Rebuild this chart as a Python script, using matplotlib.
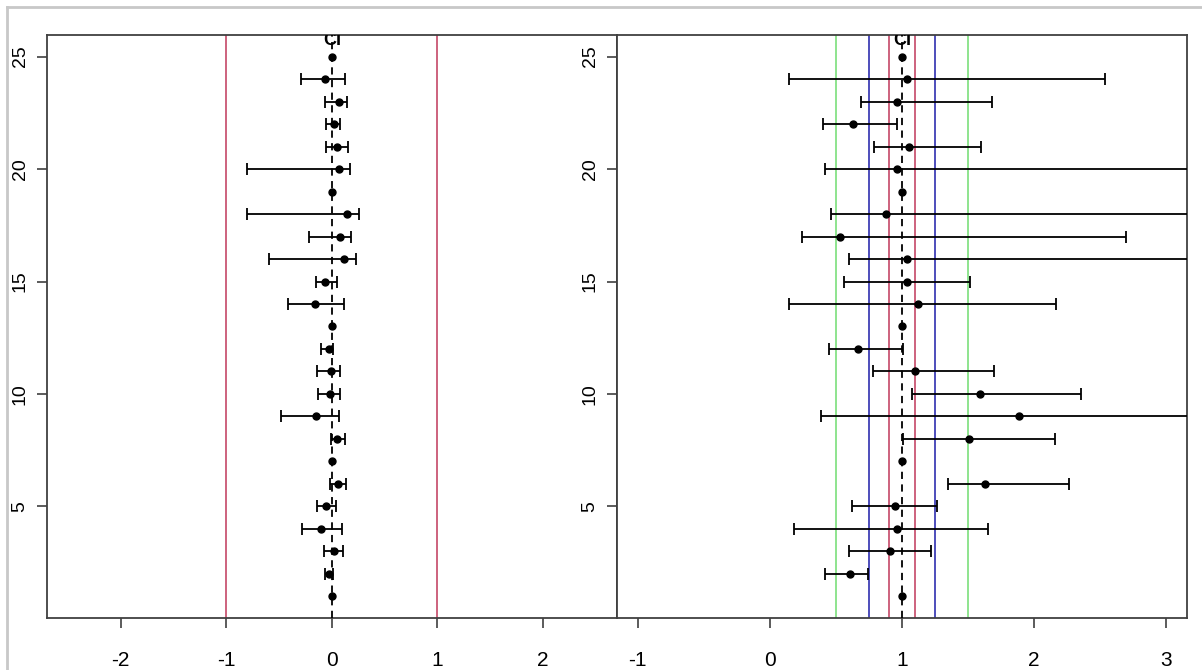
import matplotlib
matplotlib.use('Agg')
import matplotlib.pyplot as plt
import numpy as np
from matplotlib.lines import Line2D

plt.rcParams['font.family'] = ['Liberation Sans', 'DejaVu Sans']

rows = list(range(1, 26))

# left panel: estimate, lower and upper limits (bottom row first); None = no interval
left_est = [0.0, -0.03, 0.02, -0.105, -0.05, 0.056, 0.0, 0.045, -0.15, -0.02, -0.01, -0.03,
            0.0, -0.16, -0.06, 0.12, 0.08, 0.14, 0.0, 0.064, 0.05, 0.02, 0.064, -0.06, 0.0]
left_lo = [None, -0.06, -0.075, -0.28, -0.14, -0.02, None, -0.01, -0.48, -0.13, -0.14, -0.105,
           None, -0.41, -0.15, -0.59, -0.22, -0.80, None, -0.80, -0.05, -0.05, -0.06, -0.29, None]
left_hi = [None, 0.015, 0.11, 0.094, 0.04, 0.135, None, 0.13, 0.07, 0.075, 0.08, 0.015,
           None, 0.12, 0.045, 0.23, 0.18, 0.26, None, 0.17, 0.15, 0.08, 0.14, 0.13, None]

# right panel (ratio scale)
right_est = [1.0, 0.61, 0.91, 0.96, 0.95, 1.63, 1.0, 1.51, 1.89, 1.59, 1.10, 0.665,
             1.0, 1.12, 1.04, 1.04, 0.53, 0.88, 1.0, 0.96, 1.055, 0.63, 0.96, 1.04, 1.0]
right_lo = [None, 0.42, 0.60, 0.18, 0.62, 1.35, None, 1.01, 0.39, 1.08, 0.78, 0.45,
            None, 0.145, 0.56, 0.60, 0.245, 0.46, None, 0.42, 0.79, 0.40, 0.69, 0.145, None]
right_hi = [None, 0.74, 1.22, 1.65, 1.27, 2.27, None, 2.16, 3.6, 2.36, 1.70, 1.01,
            None, 2.17, 1.52, 3.5, 2.70, 3.7, None, 3.8, 1.60, 0.96, 1.68, 2.54, None]

left_ref = 0
left_bounds = [-1, 1]
right_ref = 1
right_bounds = [(0.9, 1.1, '#c0385a'), (0.75, 1.25, '#1c1ca8'), (0.5, 1.5, '#70dd70')]

fig = plt.figure(figsize=(12.02, 6.70), dpi=100)

ax1 = fig.add_axes([0.0389, 0.0776, 0.4742, 0.8702])
ax2 = fig.add_axes([0.5131, 0.0776, 0.4744, 0.8702])


def draw_panel(ax, est, lo, hi, ref):
    for y, e, l, h in zip(rows, est, lo, hi):
        if l is not None:
            ax.errorbar(e, y, xerr=[[e - l], [h - e]], fmt='none', ecolor='black',
                        elinewidth=1.3, capsize=4, capthick=1.3, zorder=4)
    ax.plot(est, rows, 'o', color='black', markersize=5, zorder=5)
    ax.axvline(ref, color='black', linestyle=(0, (4, 3)), linewidth=1.3, zorder=3)
    ax.set_ylim(0.04, 25.96)
    ax.set_yticks([5, 10, 15, 20, 25])
    ax.set_yticklabels(['5', '10', '15', '20', '25'], rotation=90, va='center')
    ax.tick_params(axis='both', length=7, width=1.2, color='#404040')
    ax.tick_params(axis='x', pad=17, labelsize=15)
    ax.tick_params(axis='y', pad=6, labelsize=14)
    for s in ax.spines.values():
        s.set_color('#404040')
        s.set_linewidth(1.3)
    ax.text(ref, 25.5, 'CI', ha='center', va='baseline', fontsize=13,
            fontweight='bold', clip_on=True, zorder=6)


draw_panel(ax1, left_est, left_lo, left_hi, left_ref)
for b in left_bounds:
    ax1.axvline(b, color='#c0385a', linewidth=1.1, zorder=2)
ax1.set_xlim(-2.7, 2.7)
ax1.set_xticks([-2, -1, 0, 1, 2])
ax1.set_xticklabels(['-2', '-1', '0', '1', '2'])

draw_panel(ax2, right_est, right_lo, right_hi, right_ref)
for lo_b, hi_b, col in right_bounds:
    ax2.axvline(lo_b, color=col, linewidth=1.1, zorder=2)
    ax2.axvline(hi_b, color=col, linewidth=1.1, zorder=2)
ax2.set_xlim(-1.16, 3.16)
ax2.set_xticks([-1, 0, 1, 2, 3])
ax2.set_xticklabels(['-1', '0', '1', '2', '3'])

# light grey frame of the screenshot
fig.add_artist(Line2D([7 / 1202, 1.0], [1 - 7 / 670, 1 - 7 / 670],
                      transform=fig.transFigure, color='#c8c8c8', linewidth=2))
fig.add_artist(Line2D([7 / 1202, 7 / 1202], [0.0, 1 - 7 / 670],
                      transform=fig.transFigure, color='#c8c8c8', linewidth=2))

fig.savefig('out.png', dpi=100)
